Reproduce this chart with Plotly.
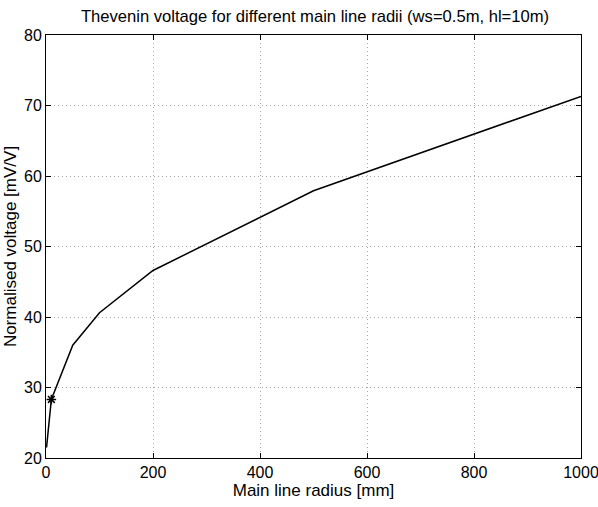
import plotly.graph_objects as go

radius_mm = [1, 10, 50, 100, 200, 500, 1000]
voltage = [21.5, 28.3, 36.0, 40.6, 46.6, 57.9, 71.3]
marker_x = [10]
marker_y = [28.3]
x_ticks = [0, 200, 400, 600, 800, 1000]
y_ticks = [20, 30, 40, 50, 60, 70, 80]

font = "Liberation Sans, Arial, sans-serif"

fig = go.Figure()
fig.add_trace(go.Scatter(x=radius_mm, y=voltage, mode="lines",
                         line=dict(color="black", width=1.5), showlegend=False))
fig.add_trace(go.Scatter(x=marker_x, y=marker_y, mode="markers",
                         marker=dict(symbol="asterisk-open", size=8, color="black",
                                     line=dict(color="black", width=1.5)),
                         showlegend=False))

axis_common = dict(showline=True, linecolor="black", linewidth=1, mirror="ticks",
                   ticks="inside", ticklen=5, tickcolor="black", automargin=False,
                   ticklabeloverflow="allow",
                   showgrid=True, gridcolor="#a8a8a8", griddash="1px,3px", gridwidth=1,
                   zeroline=False, tickfont=dict(family=font, size=16, color="black"))

fig.update_layout(
    width=598, height=507,
    margin=dict(l=46, r=17, t=35, b=49),
    paper_bgcolor="white", plot_bgcolor="white",
    title=dict(text="Thevenin voltage for different main line radii (ws=0.5m, hl=10m)",
               x=315 / 598, xanchor="center", y=1 - 16 / 507, yanchor="middle",
               font=dict(family=font, size=16.6, color="black")),
    xaxis=dict(range=[0, 1000], tickvals=x_ticks,
               title=dict(text="Main line radius [mm]", standoff=2,
                          font=dict(family=font, size=17, color="black")),
               **axis_common),
    yaxis=dict(range=[20, 80], tickvals=y_ticks,
               title=dict(text="Normalised voltage [mV/V]", standoff=3,
                          font=dict(family=font, size=17, color="black")),
               **axis_common),
)

fig.write_html("out.html")
